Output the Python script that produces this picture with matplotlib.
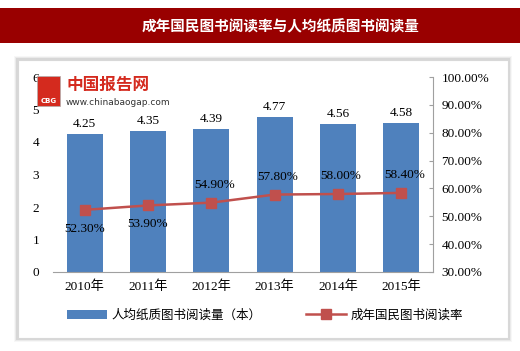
import matplotlib
matplotlib.use("Agg")
import matplotlib.pyplot as plt
from matplotlib.patches import Rectangle, Patch
from matplotlib.lines import Line2D

years = ["2010年", "2011年", "2012年", "2013年", "2014年", "2015年"]
books = [4.25, 4.35, 4.39, 4.77, 4.56, 4.58]
rate = [52.30, 53.90, 54.90, 57.80, 58.00, 58.40]
title = "成年国民图书阅读率与人均纸质图书阅读量"
bar_name = "人均纸质图书阅读量（本）"
line_name = "成年国民图书阅读率"

SERIF = ["Liberation Serif", "Noto Sans CJK SC"]
CJK = ["Noto Sans CJK SC", "DejaVu Sans"]

W, H = 520, 351
fig = plt.figure(figsize=(W / 100, H / 100), dpi=100)
fig.patch.set_facecolor("white")

# title band
fig.patches.append(Rectangle((0, 1 - 43 / H), 1, 35 / H, transform=fig.transFigure,
                             facecolor="#990000", edgecolor="none", zorder=-5))
fig.text(0.54, 1 - 26 / H, title, color="white", fontsize=10.5, family=CJK,
         ha="center", va="center", weight="bold")

# panel with soft shadow
for i, a in enumerate([0.03, 0.05, 0.08]):
    d = 3 - i
    fig.patches.append(Rectangle(((17 - d) / W, 1 - (339 + d) / H), (492 + 2 * d) / W,
                                 (280 + 2 * d) / H, transform=fig.transFigure,
                                 facecolor="black", alpha=a, edgecolor="none", zorder=-4))
fig.patches.append(Rectangle((18 / W, 1 - 338 / H), 490 / W, 278 / H,
                             transform=fig.transFigure, facecolor="white",
                             edgecolor="#d8d8d8", lw=0.8, zorder=-3))

ax = fig.add_axes([53 / W, 1 - 272 / H, 380 / W, 195 / H])
ax.set_zorder(1)
ax.set_facecolor("none")
x = list(range(len(years)))
ax.bar(x, books, width=0.57, color="#4F81BD", zorder=2)
ax.set_xlim(-0.5, 5.5)
ax.set_ylim(0, 6)
ax.set_yticks(range(7))
ax.set_xticks(x)
ax.set_xticklabels(years, family=SERIF, fontsize=9.5)
for lab in ax.get_yticklabels():
    lab.set_family(SERIF)
    lab.set_fontsize(9.5)
ax.tick_params(axis="y", length=0, pad=10)
ax.tick_params(axis="x", length=0, pad=6)
for s in ["top", "right", "left"]:
    ax.spines[s].set_visible(False)
ax.spines["bottom"].set_color("#a0a0a0")
for xi, v in zip(x, books):
    ax.text(xi, v + 0.12, f"{v:.2f}", ha="center", va="bottom", family=SERIF, fontsize=9.5)

ax2 = ax.twinx()
ax2.set_zorder(2)
ax2.set_facecolor("none")
ax2.plot(x, rate, color="#C0504D", lw=1.8, marker="s", markersize=7,
         markerfacecolor="#C0504D", markeredgecolor="#C0504D", zorder=3)
ax2.set_ylim(30, 100)
ax2.set_yticks(range(30, 101, 10))
ax2.set_yticklabels([f"{t:.2f}%" for t in range(30, 101, 10)], family=SERIF, fontsize=9.5)
ax2.tick_params(axis="y", direction="in", length=3, color="#a0a0a0", pad=6)
for s in ["top", "left", "bottom"]:
    ax2.spines[s].set_visible(False)
ax2.spines["right"].set_color("#a0a0a0")
for i, (xi, v) in enumerate(zip(x, rate)):
    if i < 2:
        ax2.text(xi, v - 6.8, f"{v:.2f}%", ha="center", va="center", family=SERIF, fontsize=9.5)
    else:
        ax2.text(xi + 0.05, v + 6.3, f"{v:.2f}%", ha="center", va="center", family=SERIF, fontsize=9.5)

# watermark logo
fig.patches.append(Rectangle((37 / W, 1 - 106 / H), 23 / W, 30 / H, transform=fig.transFigure,
                             facecolor="#d42a1e", edgecolor="#b0b0b0", lw=0.5, zorder=5))
fig.text(48.5 / W, 1 - 101 / H, "CBG", color="white", fontsize=5, ha="center", va="center",
         weight="bold", zorder=6)
fig.text(66 / W, 1 - 85 / H, "中国报告网", color="#d42a1e", fontsize=12, family=CJK,
         weight="bold", va="center", zorder=6)
fig.text(66 / W, 1 - 103 / H, "www.chinabaogap.com", color="#333333", fontsize=6.5,
         va="center", zorder=6)

handles = [Patch(facecolor="#4F81BD", edgecolor="none"),
           Line2D([0], [0], color="#C0504D", lw=1.8, marker="s", markersize=7)]
fig.legend(handles, [bar_name, line_name], loc="center", bbox_to_anchor=(265 / W, 1 - 315 / H),
           ncol=2, frameon=False, prop={"family": CJK, "size": 9}, handlelength=3.2,
           columnspacing=3.5, handletextpad=0.4)

fig.savefig("out.png", dpi=100)
